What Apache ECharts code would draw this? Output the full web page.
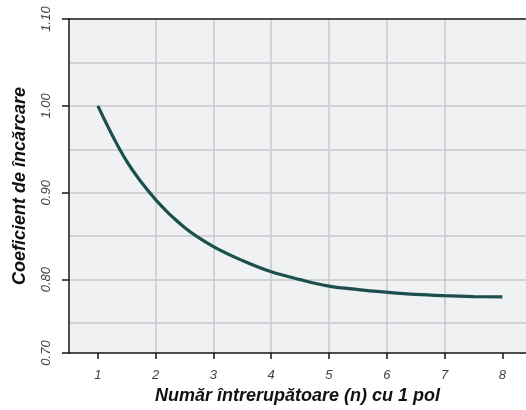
<!DOCTYPE html>
<html>
<head>
<meta charset="utf-8">
<script src="https://cdn.jsdelivr.net/npm/echarts@6/dist/echarts.min.js"></script>
<style>
html,body{margin:0;padding:0;background:#fff;}
#chart{width:526px;height:410px;}
</style>
</head>
<body>
<div id="chart"></div>
<script>
// Data
const nValues = [1, 1.5, 2, 2.5, 3, 3.5, 4, 4.5, 5, 5.5, 6, 6.5, 7, 7.5, 8];
const coefValues = [1.000, 0.936, 0.892, 0.860, 0.838, 0.822, 0.809, 0.800, 0.7925, 0.7885, 0.7855, 0.783, 0.7815, 0.7805, 0.780];

// Tick labels
const xTickValues = [1, 2, 3, 4, 5, 6, 7, 8];
const yTickLabels = ['0.70', '0.80', '0.90', '1.00', '1.10'];
// In the reference the bottom label "0.70" sits on the x axis, which lies at ~0.7155 on the scale
const yTickValues = [0.7155, 0.80, 0.90, 1.00, 1.10];

const xName = 'Număr întrerupătoare (n) cu 1 pol';
const yName = 'Coeficient de încărcare';

const xMin = 0.5, xMax = 8.41;
const yMin = 0.7155, yMax = 1.10;

const FONT = '"Liberation Sans", Arial, sans-serif';
const axisColor = '#161616';
const gridColor = '#c8c9cc';

const chart = echarts.init(document.getElementById('chart'), null, {renderer: 'canvas'});

const option = {
  animation: false,
  backgroundColor: '#ffffff',
  grid: {
    left: 69, right: 0, top: 19, bottom: 57,
    show: true, backgroundColor: '#f0f1f3', borderWidth: 0
  },
  xAxis: [{
    type: 'value', min: xMin, max: xMax, splitNumber: 8,
    position: 'bottom',
    name: xName, nameLocation: 'middle', nameGap: 33,
    nameTextStyle: {fontFamily: FONT, fontSize: 18, fontStyle: 'italic', fontWeight: 'bold', color: '#111'},
    axisLine: {show: true, onZero: false, lineStyle: {color: axisColor, width: 1.5}},
    axisTick: {show: true, length: 6, customValues: xTickValues, lineStyle: {color: axisColor, width: 1.5}},
    axisLabel: {
      customValues: xTickValues, margin: 16,
      fontFamily: FONT, fontSize: 13, fontStyle: 'italic', color: '#444',
      formatter: v => String(v)
    },
    splitLine: {show: true, showMinLine: false, showMaxLine: false, lineStyle: {color: gridColor, width: 1.5}}
  }, {
    type: 'value', min: xMin, max: xMax, position: 'top',
    axisLine: {show: true, onZero: false, lineStyle: {color: axisColor, width: 1.5}},
    axisTick: {show: false}, axisLabel: {show: false}, splitLine: {show: false}
  }],
  yAxis: [{
    type: 'value', min: yMin, max: yMax,
    position: 'left',
    name: yName, nameLocation: 'middle', nameGap: 40,
    nameTextStyle: {fontFamily: FONT, fontSize: 18, fontStyle: 'italic', fontWeight: 'bold', color: '#111'},
    axisLine: {show: true, onZero: false, lineStyle: {color: axisColor, width: 1.5}},
    axisTick: {show: true, length: 7, customValues: yTickValues, lineStyle: {color: axisColor, width: 1.5}},
    axisLabel: {
      customValues: yTickValues, margin: 16, rotate: 90,
      fontFamily: FONT, fontSize: 13, fontStyle: 'italic', color: '#444',
      formatter: v => {
        let best = 0;
        yTickValues.forEach((t, i) => { if (Math.abs(t - v) < Math.abs(yTickValues[best] - v)) best = i; });
        return yTickLabels[best];
      }
    },
    splitLine: {show: false}
  }, {
    // grid-line only axis (every 0.05)
    type: 'value', min: yMin, max: yMax, splitNumber: 8,
    position: 'left',
    axisLine: {show: false}, axisTick: {show: false}, axisLabel: {show: false},
    splitLine: {show: true, showMinLine: false, showMaxLine: false, lineStyle: {color: gridColor, width: 1.5}}
  }],
  series: [{
    type: 'line',
    data: nValues.map((n, i) => [n, coefValues[i]]),
    smooth: 0.35,
    symbol: 'none',
    lineStyle: {color: '#1a4f4e', width: 3.2},
    clip: false
  }]
};
chart.setOption(option);
</script>
</body>
</html>
